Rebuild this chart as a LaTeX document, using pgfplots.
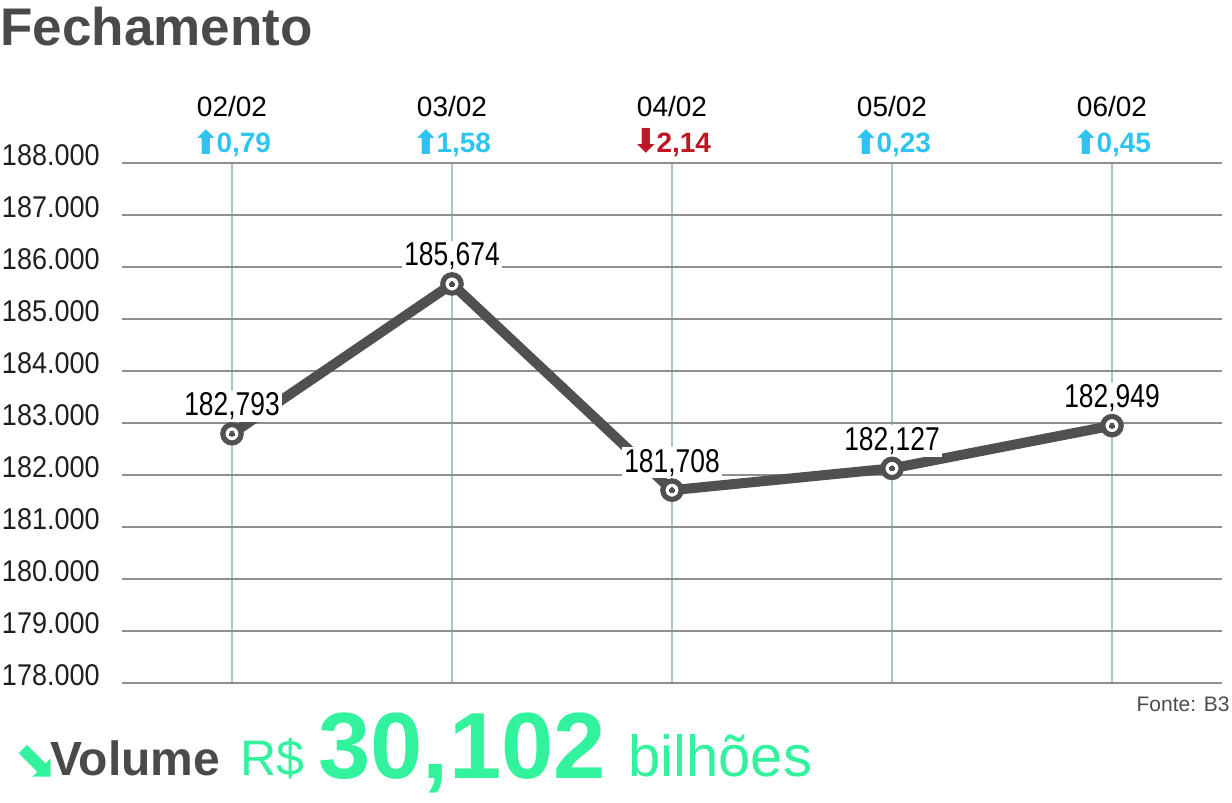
\documentclass[border=0pt]{standalone}
\usepackage{pgfplots}
\pgfplotsset{compat=1.18}
\usepackage{fontspec}
\setmainfont{Liberation Sans}
\newfontfamily\tickfont[FakeStretch=0.9]{Liberation Sans}
\newfontfamily\labfont[FakeStretch=0.8]{Liberation Sans}
\newfontfamily\arrowfont{DejaVu Sans}
\definecolor{upc}{HTML}{2EC4F2}
\definecolor{downc}{HTML}{BE1622}
\definecolor{greenc}{HTML}{33F29E}
\definecolor{titlec}{HTML}{4A4A4A}
\definecolor{linec}{HTML}{505050}
\definecolor{hgrid}{HTML}{8E8E8E}
\definecolor{vgrid}{HTML}{A8C7BF}
\newcommand{\upar}{{\arrowfont\fontsize{16.5}{16.5}\selectfont\raisebox{-1pt}{⬆}}\kern-2pt}
\newcommand{\dnar}{{\arrowfont\fontsize{16.5}{16.5}\selectfont\raisebox{0pt}{⬇}}\kern-2pt}
\begin{document}
\begin{tikzpicture}
\useasboundingbox (0,0) rectangle (616pt,401.5pt);
\begin{axis}[
  at={(61pt,60pt)}, anchor=south west,
  scale only axis, width=550pt, height=260pt,
  xmin=-0.5, xmax=4.5, ymin=178000, ymax=188000,
  xtick={0,1,2,3,4}, xticklabels={{},{},{},{},{}},
  scaled y ticks=false,
  ytick={178000,179000,180000,181000,182000,183000,184000,185000,186000,187000,188000},
  yticklabels={178.000,179.000,180.000,181.000,182.000,183.000,184.000,185.000,186.000,187.000,188.000},
  yticklabel style={font=\tickfont\fontsize{15}{15}\selectfont, text=black!88, anchor=east, inner sep=0pt, xshift=-11pt, yshift=4pt},
  axis line style={draw=none}, major tick length=0pt,
  ymajorgrids, xmajorgrids,
  y grid style={hgrid, line width=0.7pt},
  x grid style={vgrid, line width=0.6pt},
  clip=false,
]
\addplot[linec, line width=5pt, line join=round, mark=none]
  coordinates {(0,182793) (1,185674) (2,181708) (3,182127) (4,182949)};
\addplot[draw=none, mark=none, nodes near coords, point meta=explicit symbolic,
  every node near coord/.append style={anchor=base, yshift=9pt, font=\labfont\fontsize{16.5}{16.5}\selectfont, text=black, fill=white, inner sep=1pt}]
  coordinates {(0,182793) [182,793] (1,185674) [185,674] (2,181708) [181,708] (3,182127) [182,127] (4,182949) [182,949]};
\addplot[only marks, mark=*, mark size=4.6pt, mark options={draw=linec, fill=white, line width=2.6pt}]
  coordinates {(0,182793) (1,185674) (2,181708) (3,182127) (4,182949)};
\addplot[only marks, mark=*, mark size=1.3pt, mark options={draw=linec, fill=linec, line width=0pt}]
  coordinates {(0,182793) (1,185674) (2,181708) (3,182127) (4,182949)};
% dates
\node[anchor=base, yshift=23pt, font=\fontsize{14}{14}\selectfont] at (axis cs:0,188000) {02/02};
\node[anchor=base, yshift=23pt, font=\fontsize{14}{14}\selectfont] at (axis cs:1,188000) {03/02};
\node[anchor=base, yshift=23pt, font=\fontsize{14}{14}\selectfont] at (axis cs:2,188000) {04/02};
\node[anchor=base, yshift=23pt, font=\fontsize{14}{14}\selectfont] at (axis cs:3,188000) {05/02};
\node[anchor=base, yshift=23pt, font=\fontsize{14}{14}\selectfont] at (axis cs:4,188000) {06/02};
% changes
\node[anchor=base, yshift=5pt, text=upc, font=\bfseries\fontsize{14}{14}\selectfont] at (axis cs:0,188000) {\upar0,79};
\node[anchor=base, yshift=5pt, text=upc, font=\bfseries\fontsize{14}{14}\selectfont] at (axis cs:1,188000) {\upar1,58};
\node[anchor=base, yshift=5pt, text=downc, font=\bfseries\fontsize{14}{14}\selectfont] at (axis cs:2,188000) {\dnar2,14};
\node[anchor=base, yshift=5pt, text=upc, font=\bfseries\fontsize{14}{14}\selectfont] at (axis cs:3,188000) {\upar0,23};
\node[anchor=base, yshift=5pt, text=upc, font=\bfseries\fontsize{14}{14}\selectfont] at (axis cs:4,188000) {\upar0,45};
\end{axis}
% title
\node[anchor=base west, inner sep=0pt, text=titlec, font=\bfseries\fontsize{26.5}{26.5}\selectfont] at (0pt,378.5pt) {Fechamento};
% source
\node[anchor=base east, inner sep=0pt, text=black!70, font=\fontsize{10.5}{10.5}\selectfont] at (615pt,45.5pt) {Fonte: B3};
% volume line
\node[anchor=base west, inner sep=0pt, text=greenc, font=\arrowfont\fontsize{26}{26}\selectfont] at (7pt,12pt) {⬊};
\node[anchor=base west, inner sep=0pt, text=titlec, font=\bfseries\fontsize{24}{24}\selectfont] at (25pt,13.5pt) {Volume};
\node[anchor=base west, inner sep=0pt, text=greenc, font=\fontsize{25}{25}\selectfont] at (120pt,13.5pt) {R\$};
\node[anchor=base west, inner sep=0pt, text=greenc, font=\bfseries\fontsize{47}{47}\selectfont] at (159pt,12pt) {30,102};
\node[anchor=base west, inner sep=0pt, text=greenc, font=\fontsize{29}{29}\selectfont] at (314pt,13pt) {bilhões};
\end{tikzpicture}
\end{document}
